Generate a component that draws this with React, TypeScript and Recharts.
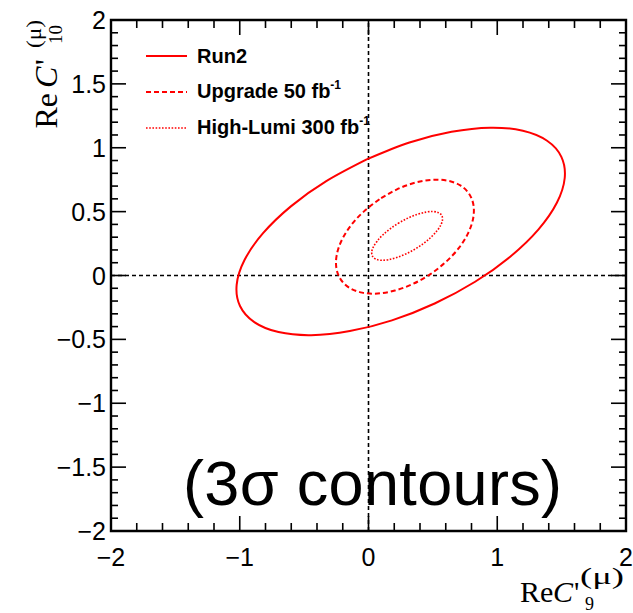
import React from 'react';
import {
  LineChart,
  Line,
  XAxis,
  YAxis,
  ReferenceLine,
  ReferenceArea,
  Legend
} from 'recharts';

// Contour points (Re C'9, Re C'10)
const RUN2 = [
  { x: -0.014, y: 0.909 }, { x: -0.328, y: 0.739 }, { x: -0.603, y: 0.541 },
  { x: -0.819, y: 0.331 }, { x: -0.963, y: 0.121 }, { x: -1.024, y: -0.073 },
  { x: -0.998, y: -0.239 }, { x: -0.887, y: -0.365 }, { x: -0.699, y: -0.443 },
  { x: -0.446, y: -0.467 }, { x: -0.145, y: -0.435 }, { x: 0.182, y: -0.351 },
  { x: 0.514, y: -0.219 }, { x: 0.828, y: -0.049 }, { x: 1.103, y: 0.149 },
  { x: 1.319, y: 0.359 }, { x: 1.463, y: 0.569 }, { x: 1.524, y: 0.763 },
  { x: 1.498, y: 0.929 }, { x: 1.387, y: 1.055 }, { x: 1.199, y: 1.133 },
  { x: 0.946, y: 1.157 }, { x: 0.645, y: 1.125 }, { x: 0.318, y: 1.041 },
  { x: -0.014, y: 0.909 },
];

const UPGRADE = [
  { x: 0.085, y: 0.597 }, { x: -0.037, y: 0.5 }, { x: -0.138, y: 0.39 },
  { x: -0.209, y: 0.274 }, { x: -0.247, y: 0.16 }, { x: -0.249, y: 0.055 },
  { x: -0.215, y: -0.032 }, { x: -0.147, y: -0.097 }, { x: -0.049, y: -0.134 },
  { x: 0.071, y: -0.141 }, { x: 0.205, y: -0.118 }, { x: 0.345, y: -0.066 },
  { x: 0.481, y: 0.011 }, { x: 0.603, y: 0.108 }, { x: 0.704, y: 0.218 },
  { x: 0.775, y: 0.334 }, { x: 0.813, y: 0.448 }, { x: 0.815, y: 0.553 },
  { x: 0.781, y: 0.64 }, { x: 0.713, y: 0.705 }, { x: 0.615, y: 0.742 },
  { x: 0.495, y: 0.749 }, { x: 0.361, y: 0.726 }, { x: 0.221, y: 0.674 },
  { x: 0.085, y: 0.597 },
];

const HIGH_LUMI = [
  { x: 0.238, y: 0.413 }, { x: 0.171, y: 0.368 }, { x: 0.113, y: 0.319 },
  { x: 0.067, y: 0.269 }, { x: 0.037, y: 0.222 }, { x: 0.025, y: 0.182 },
  { x: 0.032, y: 0.149 }, { x: 0.057, y: 0.128 }, { x: 0.099, y: 0.119 },
  { x: 0.154, y: 0.124 }, { x: 0.219, y: 0.141 }, { x: 0.29, y: 0.169 },
  { x: 0.362, y: 0.207 }, { x: 0.429, y: 0.252 }, { x: 0.487, y: 0.301 },
  { x: 0.533, y: 0.351 }, { x: 0.563, y: 0.398 }, { x: 0.575, y: 0.438 },
  { x: 0.568, y: 0.471 }, { x: 0.543, y: 0.492 }, { x: 0.501, y: 0.501 },
  { x: 0.446, y: 0.496 }, { x: 0.381, y: 0.479 }, { x: 0.31, y: 0.451 },
  { x: 0.238, y: 0.413 },
];

const SERIES_NAMES = ['Run2', 'Upgrade 50 fb', 'High-Lumi 300 fb'];
const SERIES_SUPS = ['', '-1', '-1'];

const X_TICKS = [
  -2, -1.8, -1.6, -1.4, -1.2, -1, -0.8, -0.6, -0.4, -0.2,
  0, 0.2, 0.4, 0.6, 0.8, 1, 1.2, 1.4, 1.6, 1.8, 2,
];
const X_MAJOR = [-2, -1, 0, 1, 2];
const Y_TICKS = [
  -2, -1.9, -1.8, -1.7, -1.6, -1.5, -1.4, -1.3, -1.2, -1.1,
  -1, -0.9, -0.8, -0.7, -0.6, -0.5, -0.4, -0.3, -0.2, -0.1,
  0, 0.1, 0.2, 0.3, 0.4, 0.5, 0.6, 0.7, 0.8, 0.9,
  1, 1.1, 1.2, 1.3, 1.4, 1.5, 1.6, 1.7, 1.8, 1.9, 2,
];
const Y_MAJOR = [-2, -1.5, -1, -0.5, 0, 0.5, 1, 1.5, 2];

const RED = '#ff0000';
const SANS = '"Liberation Sans", Arial, Helvetica, sans-serif';
const SERIF = '"Liberation Serif", "Times New Roman", serif';

// layout
const W = 633;
const H = 613;
const MARGIN = { top: 20, right: 7, bottom: 32, left: 41 };
const Y_AXIS_W = 70;
const X_AXIS_H = 50;
const PLOT_LEFT = MARGIN.left + Y_AXIS_W;
const PLOT_RIGHT = W - MARGIN.right;
const PLOT_TOP = MARGIN.top;
const PLOT_BOTTOM = H - MARGIN.bottom - X_AXIS_H;

const fmt = (v: number) => String(v).replace('-', '\u2212');

const STYLES = [
  { dash: undefined, width: 2 },
  { dash: '5 3', width: 2 },
  { dash: '1.6 1.6', width: 1.6 },
];

const XTick = (props: any) => {
  const { x, payload } = props;
  const v = payload.value;
  const major = X_MAJOR.includes(v);
  const len = major ? 15 : 8;
  return (
    <g>
      <line x1={x} x2={x} y1={PLOT_BOTTOM} y2={PLOT_BOTTOM - len} stroke="#000" strokeWidth={1.6} />
      <line x1={x} x2={x} y1={PLOT_TOP} y2={PLOT_TOP + len} stroke="#000" strokeWidth={1.6} />
      {major && (
        <text x={x} y={566} textAnchor="middle" fontFamily={SANS} fontSize={25} fill="#000">
          {fmt(v)}
        </text>
      )}
    </g>
  );
};

const YTick = (props: any) => {
  const { y, payload } = props;
  const v = payload.value;
  const major = Y_MAJOR.includes(v);
  const len = major ? 15 : 7;
  return (
    <g>
      <line x1={PLOT_LEFT} x2={PLOT_LEFT + len} y1={y} y2={y} stroke="#000" strokeWidth={1.6} />
      <line x1={PLOT_RIGHT} x2={PLOT_RIGHT - len} y1={y} y2={y} stroke="#000" strokeWidth={1.6} />
      {major && (
        <text x={106} y={y + 9} textAnchor="end" fontFamily={SANS} fontSize={25} fill="#000">
          {fmt(v)}
        </text>
      )}
    </g>
  );
};

const LegendBox = () => (
  <div style={{ fontFamily: SANS, fontWeight: 'bold', fontSize: 20, color: '#000' }}>
    {SERIES_NAMES.map((name, i) => (
      <div key={name} style={{ display: 'flex', alignItems: 'center', height: 36 }}>
        <svg width={41} height={36} style={{ display: 'block' }}>
          <line x1={0} x2={41} y1={18} y2={18} stroke={RED}
            strokeWidth={STYLES[i].width} strokeDasharray={STYLES[i].dash} />
        </svg>
        <span style={{ marginLeft: 10, whiteSpace: 'nowrap', lineHeight: '36px' }}>
          {name}
          {SERIES_SUPS[i] && (
            <span style={{ fontSize: 12, position: 'relative', top: -9 }}>{SERIES_SUPS[i]}</span>
          )}
        </span>
      </div>
    ))}
  </div>
);

// axis titles and the big note
const Annotations = () => (
  <g>
    <text x={183} y={505} fontFamily={SANS} fontSize={63} fill="#000"
      textLength={379} lengthAdjust="spacing">
      (3σ contours)
    </text>

    {/* x title: Re C'9(mu) */}
    <text x={520} y={602} fontFamily={SERIF} fontSize={30} fill="#000">Re</text>
    <text x={553} y={602} fontFamily={SERIF} fontSize={30} fontStyle="italic" fill="#000">C</text>
    <text x={574} y={602} fontFamily={SERIF} fontSize={30} fill="#000">'</text>
    <text x={580} y={584} fontFamily={SERIF} fontSize={23} fill="#000"
      textLength={44} lengthAdjust="spacingAndGlyphs">(μ)</text>
    <text x={585} y={610} fontFamily={SERIF} fontSize={18} fill="#000">9</text>

    {/* y title: Re C'10(mu), rotated */}
    <g transform="rotate(-90)">
      <text x={-128.5} y={57} fontFamily={SERIF} fontSize={32} fill="#000">Re</text>
      <text x={-88} y={57} fontFamily={SERIF} fontSize={32} fontStyle="italic" fill="#000">C</text>
      <text x={-65} y={57} fontFamily={SERIF} fontSize={32} fill="#000">'</text>
      <text x={-48} y={41} fontFamily={SERIF} fontSize={21} fill="#000"
        textLength={28} lengthAdjust="spacingAndGlyphs">(μ)</text>
      <text x={-44} y={62} fontFamily={SERIF} fontSize={19} fill="#000">10</text>
    </g>
  </g>
);

export default function App() {
  return (
    <div style={{ position: 'absolute', left: 0, top: 0, width: W, height: H, background: '#fff' }}>
      <LineChart width={W} height={H} margin={MARGIN}>
        <XAxis
          type="number"
          dataKey="x"
          domain={[-2, 2]}
          ticks={X_TICKS}
          interval={0}
          allowDataOverflow
          height={X_AXIS_H}
          axisLine={false}
          tickLine={false}
          tick={XTick}
        />
        <YAxis
          type="number"
          dataKey="y"
          domain={[-2, 2]}
          ticks={Y_TICKS}
          interval={0}
          allowDataOverflow
          width={Y_AXIS_W}
          axisLine={false}
          tickLine={false}
          tick={YTick}
        />
        <ReferenceLine x={0} stroke="#000" strokeWidth={1.6} strokeDasharray="4 3" />
        <ReferenceLine y={0} stroke="#000" strokeWidth={1.6} strokeDasharray="4 3" />
        {[RUN2, UPGRADE, HIGH_LUMI].map((d, i) => (
          <Line
            key={SERIES_NAMES[i]}
            data={d}
            dataKey="y"
            name={SERIES_NAMES[i]}
            type="natural"
            stroke={RED}
            strokeWidth={STYLES[i].width}
            strokeDasharray={STYLES[i].dash}
            dot={false}
            activeDot={false}
            isAnimationActive={false}
          />
        ))}
        <ReferenceArea x1={-2} x2={2} y1={-2} y2={2} fill="none" stroke="#000" strokeWidth={2.4} />
        <Legend
          layout="vertical"
          verticalAlign="middle"
          align="center"
          content={LegendBox}
          wrapperStyle={{ left: 146, top: 38, width: 320, height: 108 }}
        />
        <Annotations />
      </LineChart>
    </div>
  );
}
